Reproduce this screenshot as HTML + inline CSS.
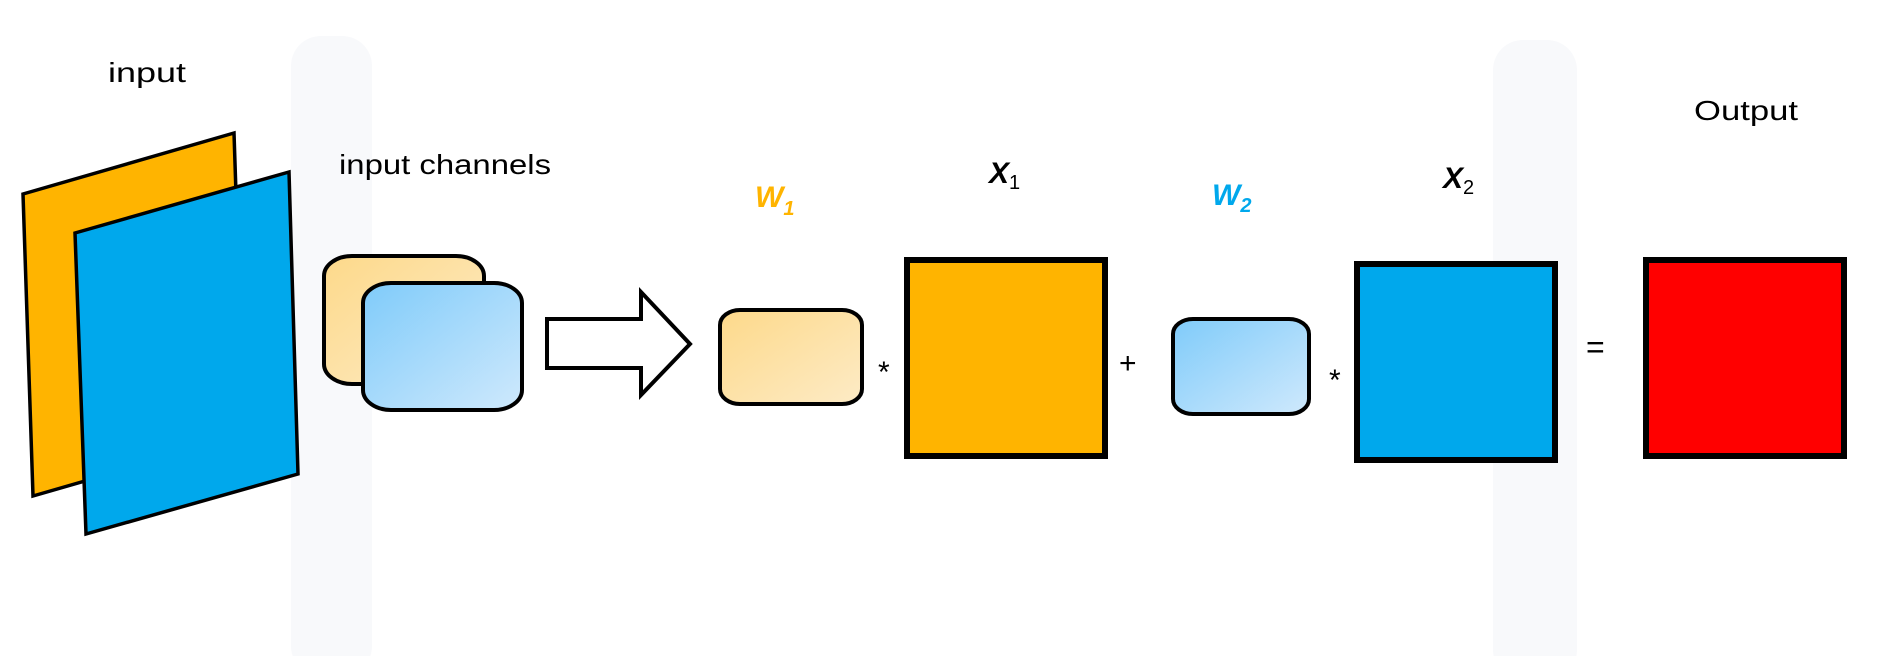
<!DOCTYPE html>
<html><head><meta charset="utf-8"><style>
html,body{margin:0;padding:0;background:#fff;width:1883px;height:656px;overflow:hidden}
text{font-family:"Liberation Sans",sans-serif}
</style></head><body>
<svg width="1883" height="656" viewBox="0 0 1883 656">
<defs>
<linearGradient id="go" x1="0" y1="0" x2="1" y2="1"><stop offset="0" stop-color="#fdd98a"/><stop offset="1" stop-color="#fdebc6"/></linearGradient>
<linearGradient id="gb" x1="0" y1="0" x2="1" y2="1"><stop offset="0" stop-color="#7fcbfa"/><stop offset="1" stop-color="#cfe9fc"/></linearGradient>
</defs>
<g fill="#f8f9fb">
<rect x="291" y="36" width="81" height="640" rx="30"/>
<rect x="1493" y="40" width="84" height="640" rx="30"/>
</g>
<text x="108" y="82" font-size="28" textLength="78" lengthAdjust="spacingAndGlyphs">input</text>
<polygon points="23,194 234,133 244,435 33,496" fill="#ffb400" stroke="#000" stroke-width="3.5"/>
<polygon points="75,233 289,172 298,474 86,534" fill="#00a8ec" stroke="#000" stroke-width="3.5"/>
<text x="339" y="174" font-size="28" textLength="212" lengthAdjust="spacingAndGlyphs">input channels</text>
<rect x="324" y="256" width="160" height="128" rx="28" ry="20" fill="url(#go)" stroke="#000" stroke-width="4"/>
<rect x="363" y="283" width="159" height="127" rx="28" ry="20" fill="url(#gb)" stroke="#000" stroke-width="4"/>
<polygon points="547,319 641,319 641,292 690,344 641,395 641,368 547,368" fill="#fff" stroke="#000" stroke-width="4"/>
<text x="755" y="207" font-size="30" font-weight="bold" font-style="italic" fill="#ffb400" font-family="Liberation Serif">W<tspan font-size="20" dy="8">1</tspan></text>
<rect x="720" y="310" width="142" height="94" rx="20" ry="15" fill="url(#go)" stroke="#000" stroke-width="4"/>
<text x="878" y="382" font-size="30">*</text>
<text x="989" y="183" font-size="30" font-weight="bold" font-style="italic" font-family="Liberation Serif">X<tspan font-size="20" font-weight="normal" font-style="normal" dy="6">1</tspan></text>
<rect x="907" y="260" width="198" height="196" fill="#ffb400" stroke="#000" stroke-width="6"/>
<text x="1119" y="373" font-size="30">+</text>
<text x="1212" y="205" font-size="30" font-weight="bold" font-style="italic" fill="#00a8ec" font-family="Liberation Serif">W<tspan font-size="20" dy="7">2</tspan></text>
<rect x="1173" y="319" width="136" height="95" rx="20" ry="15" fill="url(#gb)" stroke="#000" stroke-width="4"/>
<text x="1329" y="390" font-size="30">*</text>
<text x="1443" y="188" font-size="30" font-weight="bold" font-style="italic" font-family="Liberation Serif">X<tspan font-size="20" font-weight="normal" font-style="normal" dy="6">2</tspan></text>
<rect x="1357" y="264" width="198" height="196" fill="#00a8ec" stroke="#000" stroke-width="6"/>
<text x="1586" y="358" font-size="32">=</text>
<text x="1694" y="120" font-size="28" textLength="104" lengthAdjust="spacingAndGlyphs">Output</text>
<rect x="1646" y="260" width="198" height="196" fill="#ff0000" stroke="#000" stroke-width="6"/>
</svg>
</body></html>
